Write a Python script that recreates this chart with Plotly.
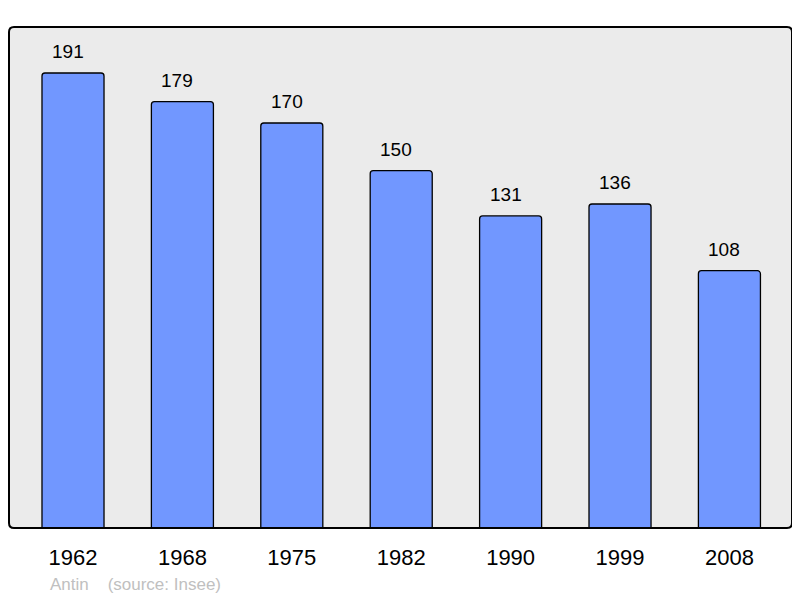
import plotly.graph_objects as go

years = ["1962", "1968", "1975", "1982", "1990", "1999", "2008"]
population = [191, 179, 170, 150, 131, 136, 108]

# page body has an 8px margin, so the figure is drawn 8px right/down
W, H = 792, 590
L, R, T, B = 1, 8, 19, 70
pw, ph = W - L - R, H - T - B

xs = list(range(len(years)))
FONT = "Liberation Sans, Arial, sans-serif"

fig = go.Figure()
fig.add_trace(go.Bar(
    x=xs, y=population, width=0.567,
    marker=dict(color="#7197ff", line=dict(color="#000000", width=1.3), cornerradius=3),
    hoverinfo="skip",
))

for x, v in zip(xs, population):
    fig.add_annotation(x=x, y=v, text=str(v), showarrow=False, yanchor="bottom",
                       yshift=9, xshift=-5, font=dict(size=19, color="#000000", family=FONT))

fig.add_annotation(xref="paper", yref="paper", x=(48 - 8 - L) / pw, y=-(584 - 528) / ph,
                   xanchor="left", yanchor="middle", showarrow=False,
                   text="Antin &nbsp;&nbsp;&nbsp;(source: Insee)",
                   font=dict(size=17, color="#c0c0c0", family=FONT))

# rounded frame
r = 5
rx, ry = r / pw, r / ph
path = (f"M {rx},0 L {1-rx},0 Q 1,0 1,{ry} L 1,{1-ry} Q 1,1 {1-rx},1 "
        f"L {rx},1 Q 0,1 0,{1-ry} L 0,{ry} Q 0,0 {rx},0 Z")
fig.add_shape(type="path", xref="paper", yref="paper", path=path,
              line=dict(color="#000000", width=2), fillcolor="rgba(0,0,0,0)", layer="above")

fig.update_layout(
    width=W, height=H,
    margin=dict(l=L, r=R, t=T, b=B),
    paper_bgcolor="#ffffff", plot_bgcolor="#ebebeb",
    showlegend=False,
    font=dict(family=FONT, color="#000000"),
)
fig.update_xaxes(range=[-0.585, 6.572], tickvals=xs, ticktext=years,
                 tickfont=dict(size=22), ticks="outside", ticklen=10,
                 tickcolor="rgba(0,0,0,0)", showgrid=False, zeroline=False, showline=False)
fig.update_yaxes(range=[0, 210.3], showticklabels=False, showgrid=False, zeroline=False, showline=False)

fig.write_html("out.html")
